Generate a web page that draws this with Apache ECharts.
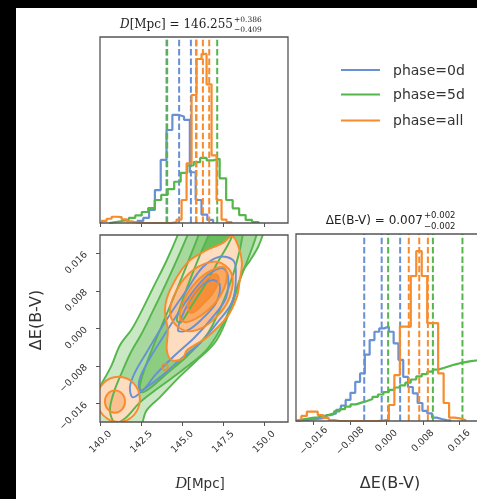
<!DOCTYPE html>
<html>
<head>
<meta charset="utf-8">
<script src="https://cdn.jsdelivr.net/npm/echarts@6/dist/echarts.min.js"></script>
<style>
html, body { margin: 0; padding: 0; background: #fff; }
#chart { width: 477px; height: 499px; }
</style>
</head>
<body>
<div id="chart"></div>
<script>
// ---- data ----
const phases = ['phase=0d', 'phase=5d', 'phase=all'];

const dRange = [139.96, 151.46];
const eRange = [-0.0199, 0.0199];
const dTicks = [140, 142.5, 145, 147.5, 150];
const eTicks = [-0.016, -0.008, 0, 0.008, 0.016];

// D[Mpc] marginal histograms: first bin edge, bin width, heights
const dHist0d = { start: 142.249, width: 0.3563,
  counts: [0.012, 0.03, 0.077, 0.195, 0.373, 0.55, 0.64, 0.63, 0.61, 0.30, 0.136, 0.05, 0.018] };
const dHist5d = { start: 140.526, width: 0.3973,
  counts: [0.006, 0.012, 0.018, 0.03, 0.045, 0.065, 0.088, 0.136, 0.166, 0.2, 0.244, 0.296, 0.34, 0.36,
           0.385, 0.37, 0.38, 0.264, 0.136, 0.087, 0.047, 0.018, 0.006] };
const dHistAll = { start: 140.061, width: 0.3056,
  counts: [0.012, 0.025, 0.037, 0.035, 0.022, 0.01, 0.003, 0, 0, 0, 0, 0, 0, 0,
           0.006, 0.02, 0.136, 0.353, 0.757, 0.97, 1.0, 0.82, 0.40, 0.136, 0.02, 0.006] };

// ΔE(B-V) marginal histograms
const eHist0d = { start: -0.01953, width: 0.001055,
  counts: [0.006, 0.006, 0.01, 0.012, 0.015, 0.02, 0.035, 0.045, 0.065, 0.09, 0.124, 0.166, 0.23, 0.28,
           0.39, 0.476, 0.525, 0.545, 0.555, 0.525, 0.457, 0.36, 0.26, 0.2, 0.163, 0.106, 0.06, 0.045,
           0.02, 0.012, 0.006, 0.003] };
const eHist5d = { start: -0.01993, width: 0.0012033,
  counts: [0.008, 0.013, 0.018, 0.022, 0.028, 0.036, 0.045, 0.057, 0.07, 0.085, 0.098, 0.108, 0.118,
           0.129, 0.142, 0.156, 0.17, 0.183, 0.197, 0.21, 0.226, 0.244, 0.262, 0.276, 0.29, 0.302,
           0.312, 0.322, 0.332, 0.34, 0.346, 0.352, 0.356, 0.36] };
const eHistAll = { start: -0.019928, width: 0.0012033,
  counts: [0.01, 0.03, 0.055, 0.055, 0.035, 0.018, 0.006, 0, 0, 0, 0, 0, 0, 0, 0, 0.003, 0.008,
           0.094, 0.27, 0.555, 0.555, 0.853, 1.0, 0.853, 0.576, 0.576, 0.28, 0.106, 0.02, 0.015, 0.005] };

// 16th / 50th / 84th percentiles
const dQuant0d = [144.03, 144.80, 145.52];
const dQuant5d = [144.07, 145.85, 147.13];
const dQuantAll = [145.846, 146.255, 146.641];
const eQuant0d = [-0.0049, -0.00106, 0.0030];
const eQuant5d = [0.00036, 0.0102, 0.0167];
const eQuantAll = [0.0049, 0.0072, 0.0091];

// 2-D credible contours, [D, ΔE] vertices, outermost first
const contour5d = [
  [[145.03,0.02310],[144.74,0.02011],[144.03,0.01442],[143.22,0.00875],[142.51,0.00375],[141.90,-0.00015],
   [141.18,-0.00356],[140.67,-0.00783],[140.06,-0.01173],[139.47,-0.01529],[139.22,-0.02127],[142.28,-0.02127],
   [142.81,-0.01743],[143.62,-0.01465],[144.73,-0.01060],[145.76,-0.00719],[147.09,-0.00250],[148.03,0.00497],
   [148.70,0.01222],[149.13,0.01442],[149.63,0.01734],[149.94,0.02011],[150.23,0.02310]],
  [[145.64,0.02310],[145.34,0.02011],[144.60,0.01414],[143.81,0.00817],[143.13,0.00326],[142.52,-0.00100],
   [141.85,-0.00506],[141.30,-0.00932],[140.81,-0.01359],[140.57,-0.01743],[140.87,-0.01999],[141.49,-0.01913],
   [142.40,-0.01572],[143.50,-0.01273],[145.15,-0.00847],[146.56,-0.00420],[147.66,0.00220],[148.39,0.00924],
   [148.94,0.01414],[149.31,0.01755],[149.55,0.02011],[149.74,0.02310]],
  [[146.25,0.02310],[146.01,0.02011],[145.34,0.01414],[144.60,0.00774],[143.93,0.00220],[143.32,-0.00292],
   [142.77,-0.00783],[142.40,-0.01209],[142.52,-0.01359],[143.01,-0.01273],[143.93,-0.00996],[145.34,-0.00570],
   [146.56,-0.00100],[147.41,0.00497],[148.09,0.01137],[148.51,0.01670],[148.70,0.02011],[148.88,0.02310]],
  [[146.80,0.02310],[146.62,0.02011],[146.07,0.01563],[145.46,0.01030],[144.91,0.00497],[144.66,0.00177],
   [144.91,0.00134],[145.58,0.00497],[146.38,0.00924],[147.17,0.01414],[147.78,0.01777],[148.09,0.02011],
   [148.27,0.02310]]
];
const contour0d = [
  [[141.97,-0.01465],[141.79,-0.01252],[142.10,-0.00932],[142.89,-0.00463],[143.62,-0.00036],[144.41,0.00390],
   [145.26,0.00817],[146.25,0.01308],[147.29,0.01527],[148.09,0.01457],[148.27,0.01244],[148.09,0.00604],
   [147.11,0.00113],[146.07,-0.00314],[145.03,-0.00612],[143.62,-0.01039],[142.58,-0.01316]],
  [[142.40,-0.01316],[142.40,-0.01060],[143.01,-0.00633],[143.81,-0.00186],[144.66,0.00284],[145.58,0.00753],
   [146.56,0.01137],[147.41,0.01286],[147.78,0.01137],[147.66,0.00647],[146.80,0.00220],[145.76,-0.00186],
   [144.54,-0.00570],[143.32,-0.00996],[142.70,-0.01273]],
  [[144.73,-0.00036],[145.15,0.00390],[145.89,0.00817],[146.80,0.01030],[147.29,0.00924],[147.05,0.00540],
   [146.25,0.00220],[145.34,-0.00036]]
];
const contourAll = [
  [[148.03,0.01969],[148.39,0.01777],[148.64,0.01393],[148.51,0.01030],[148.33,0.00668],[147.72,0.00241],
   [146.50,-0.00186],[145.28,-0.00463],[145.03,-0.00633],[144.36,-0.00676],[144.05,-0.00463],[144.11,-0.00036],
   [143.93,0.00390],[144.24,0.00817],[145.28,0.01393],[146.50,0.01670],[147.48,0.01819]],
  [[144.24,0.00326],[144.65,0.00817],[145.66,0.01244],[147.09,0.01421],[148.01,0.01173],[147.90,0.00674],
   [147.09,0.00247],[145.87,-0.00036],[144.85,0.00000]],
  [[144.85,0.00220],[145.09,0.00604],[145.83,0.00988],[146.80,0.01244],[147.60,0.01286],[147.66,0.00966],
   [147.05,0.00561],[146.07,0.00262],[145.21,0.00134]],
  [[145.46,0.00348],[145.34,0.00540],[145.83,0.00817],[146.50,0.01052],[147.05,0.01158],[147.23,0.01030],
   [146.86,0.00753],[146.19,0.00497],[145.70,0.00348]]
];
const contourAllLow = [
  [[141.09,-0.01028],[142.02,-0.01167],[142.40,-0.01508],[142.02,-0.01849],[141.09,-0.01988],[140.16,-0.01849],
   [139.77,-0.01508],[140.16,-0.01167]],
  [[140.87,-0.01316],[141.31,-0.01386],[141.49,-0.01555],[141.31,-0.01723],[140.87,-0.01794],[140.44,-0.01723],
   [140.26,-0.01555],[140.44,-0.01386]]
];
const islandAll = [[143.93, -0.00819]];

// ---- styling ----
const C0 = '#6890d4', C5 = '#55b64b', CA = '#f68c2e';
const fill5d = ['#cbe8c5', '#a7d89e', '#8ccd80', '#68bd5c'];
const fillAll = ['#fddcc0', '#fbc08f', '#f9a962', '#f68f37'];
const fillAllLow = ['#fddcc0', '#fbc08f'];
const LW = 1.9;

function stepData(h) {
  const pts = [[h.start, 0]];
  h.counts.forEach((c, i) => pts.push([h.start + i * h.width, c]));
  pts.push([h.start + h.counts.length * h.width, 0]);
  return pts;
}
function histSeries(h, color, axis) {
  return { type: 'line', xAxisIndex: axis, yAxisIndex: axis, step: 'end', data: stepData(h),
    showSymbol: false, silent: true, clip: true, animation: false,
    lineStyle: { color: color, width: 2.2 } };
}
function quantSeries(q, color, axis) {
  return q.map(v => ({ type: 'line', xAxisIndex: axis, yAxisIndex: axis, data: [[v, 0], [v, 1.1]],
    showSymbol: false, silent: true, animation: false,
    lineStyle: { color: color, width: 2, type: [6.5, 2.8] } }));
}
function polySeries(pts, fill, stroke) {
  return { type: 'custom', xAxisIndex: 1, yAxisIndex: 1, clip: true, silent: true, animation: false,
    data: [pts[0]],
    renderItem: (params, api) => ({
      type: 'polygon',
      shape: { points: pts.map(p => api.coord(p)), smooth: 0.35 },
      style: { fill: fill || 'none', stroke: stroke || 'none', lineWidth: stroke ? LW : 0 }
    }) };
}

const series = [];
// D marginal
series.push(histSeries(dHist0d, C0, 0), ...quantSeries(dQuant0d, C0, 0));
series.push(histSeries(dHist5d, C5, 0), ...quantSeries(dQuant5d, C5, 0));
series.push(histSeries(dHistAll, CA, 0), ...quantSeries(dQuantAll, CA, 0));
// ΔE marginal
series.push(histSeries(eHist0d, C0, 2), ...quantSeries(eQuant0d, C0, 2));
series.push(histSeries(eHist5d, C5, 2), ...quantSeries(eQuant5d, C5, 2));
series.push(histSeries(eHistAll, CA, 2), ...quantSeries(eQuantAll, CA, 2));
// joint: filled regions, then contour lines
contour5d.forEach((p, i) => series.push(polySeries(p, fill5d[i], null)));
contourAll.forEach((p, i) => series.push(polySeries(p, fillAll[i], null)));
contourAllLow.forEach((p, i) => series.push(polySeries(p, fillAllLow[i], null)));
contour5d.forEach(p => series.push(polySeries(p, null, C5)));
contour0d.forEach(p => series.push(polySeries(p, null, C0)));
contourAll.forEach(p => series.push(polySeries(p, null, CA)));
contourAllLow.forEach(p => series.push(polySeries(p, null, CA)));
series.push({ type: 'scatter', xAxisIndex: 1, yAxisIndex: 1, data: islandAll, symbol: 'circle', symbolSize: 6,
  silent: true, animation: false, itemStyle: { color: 'none', borderColor: CA, borderWidth: LW } });

const tickFont = { fontSize: 9.5, fontFamily: 'DejaVu Sans', color: '#333' };
const fmtD = v => v.toFixed(1);
const fmtE = v => (v < 0 ? '\u2212' : '') + Math.abs(v).toFixed(3);
function xAx(grid, range, ticks, fmt, labels) {
  return { type: 'value', gridIndex: grid, min: range[0], max: range[1],
    axisLine: { show: false, onZero: false }, splitLine: { show: false },
    axisTick: { show: true, customValues: ticks, length: 4, lineStyle: { color: '#555', width: 1 } },
    axisLabel: labels ? Object.assign({ show: true, customValues: ticks, formatter: fmt, rotate: 45,
      align: 'center', verticalAlign: 'middle', margin: 20 }, tickFont) : { show: false } };
}
function hiddenY(grid) {
  return { type: 'value', gridIndex: grid, min: 0, max: 1.1, axisLine: { show: false, onZero: false },
    axisTick: { show: false }, axisLabel: { show: false }, splitLine: { show: false } };
}

const frame = (x, y, w, h) => ({ type: 'rect', shape: { x: x, y: y, width: w, height: h }, z: 100,
  style: { fill: 'none', stroke: '#555', lineWidth: 1.3 } });
const txt = (x, y, text, opts) => ({ type: 'text', x: x, y: y, z: 100,
  style: Object.assign({ text: text, fill: '#222', fontFamily: 'DejaVu Sans', fontSize: 11,
    align: 'center', verticalAlign: 'middle' }, opts || {}) });

const legendRows = [70, 94.5, 120.5];
const legendColors = [C0, C5, CA];
const legendGraphics = [];
phases.forEach((name, i) => {
  legendGraphics.push({ type: 'line', z: 100, shape: { x1: 341, y1: legendRows[i], x2: 380, y2: legendRows[i] },
    style: { stroke: legendColors[i], lineWidth: 2 } });
  legendGraphics.push(txt(393, legendRows[i] + 1, name, { align: 'left', fontSize: 14, fill: '#333' }));
});

const option = {
  backgroundColor: '#fff',
  animation: false,
  grid: [
    { left: 100, top: 37, width: 188, height: 186 },
    { left: 100, top: 235, width: 188, height: 187 },
    { left: 296, top: 234, width: 188, height: 187 }
  ],
  xAxis: [
    xAx(0, dRange, dTicks, fmtD, false),
    xAx(1, dRange, dTicks, fmtD, true),
    xAx(2, eRange, eTicks, fmtE, true)
  ],
  yAxis: [
    hiddenY(0),
    { type: 'value', gridIndex: 1, min: eRange[0], max: eRange[1], axisLine: { show: false, onZero: false },
      splitLine: { show: false },
      axisTick: { show: true, customValues: eTicks, length: 4, lineStyle: { color: '#555', width: 1 } },
      axisLabel: Object.assign({ customValues: eTicks, formatter: fmtE, rotate: 45, margin: 14 }, tickFont) },
    hiddenY(2)
  ],
  series: series,
  graphic: [
    { type: 'rect', shape: { x: 0, y: 0, width: 477, height: 8 }, style: { fill: '#000' }, z: 200 },
    { type: 'rect', shape: { x: 0, y: 0, width: 16, height: 499 }, style: { fill: '#000' }, z: 200 },
    frame(100, 37, 188, 186),
    frame(100, 235, 188, 187),
    frame(296, 234, 188, 187),
    // panel titles
    txt(233, 25, '{i|D}[Mpc] = 146.255', { align: 'right', fontFamily: 'DejaVu Serif', fontSize: 12,
      rich: { i: { fontStyle: 'italic', fontFamily: 'DejaVu Serif', fontSize: 12 } } }),
    txt(234, 20, '+0.386', { align: 'left', fontFamily: 'DejaVu Serif', fontSize: 7.5 }),
    txt(234, 30, '\u22120.409', { align: 'left', fontFamily: 'DejaVu Serif', fontSize: 7.5 }),
    txt(423, 221, '\u0394E(B-V) = 0.007', { align: 'right', fontSize: 12 }),
    txt(424, 216, '+0.002', { align: 'left', fontSize: 8.5 }),
    txt(424, 227, '\u22120.002', { align: 'left', fontSize: 8.5 }),
    // axis titles
    txt(200, 484, '{i|D}[Mpc]', { fontSize: 13.5, fill: '#333',
      rich: { i: { fontStyle: 'italic', fontFamily: 'Liberation Serif', fontSize: 16 } } }),
    txt(390, 484, '\u0394E(B-V)', { fontSize: 16, fill: '#333' }),
    Object.assign(txt(37, 320, '\u0394E(B-V)', { fontSize: 16, fill: '#333' }), { rotation: Math.PI / 2 }),
    ...legendGraphics
  ]
};

const chart = echarts.init(document.getElementById('chart'), null, { renderer: 'canvas' });
chart.setOption(option);
</script>
</body>
</html>
